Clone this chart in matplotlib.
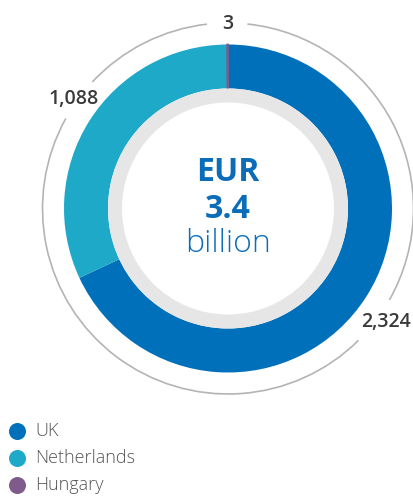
import matplotlib.pyplot as plt
from matplotlib.patches import Arc, Circle

# ── data ──────────────────────────────────────────────────────────────
countries = ["UK", "Netherlands", "Hungary"]
values = [2324, 1088, 3]
value_labels = ["2,324", "1,088", "3"]
colors = ["#0070BA", "#1FA9C9", "#7E5B8B"]
total_text = ["EUR", "3.4", "billion"]

W, H = 414, 496


def Y(p):
    # pixel row (top-down) -> data y (bottom-up)
    return H - p


plt.rcParams["font.family"] = ["Open Sans", "DejaVu Sans"]

fig = plt.figure(figsize=(W / 100, H / 100), dpi=100)
ax = fig.add_axes([0, 0, 1, 1])

cx, cy = 228, Y(208.5)

# ── donut ─────────────────────────────────────────────────────────────
wedges, _ = ax.pie(values, colors=colors, startangle=90, counterclock=False,
                   center=(cx, cy), radius=164, frame=True,
                   wedgeprops=dict(width=44, linewidth=0))
wedges[2].set_edgecolor(colors[2])
wedges[2].set_linewidth(1.2)
ax.set_xlim(0, W)
ax.set_ylim(0, H)
ax.set_aspect("equal")
ax.axis("off")

# inner grey ring + white hole
ax.add_patch(Circle((cx, cy), 120, color="#E6E6E6", lw=0))
ax.add_patch(Circle((cx, cy), 106, color="white", lw=0))

# ── thin outer ring, broken around the value labels ──────────────────
for t1, t2 in [(96.5, 137), (151, 314.7), (-29.5, 84)]:
    ax.add_patch(Arc((cx, cy), 371, 371, theta1=t1, theta2=t2,
                     color="#B4B4B4", lw=1.2))

label_pos = [(386, 322), (74, 99), (228, 24)]
for lab, (px, py) in zip(value_labels, label_pos):
    ax.text(px, Y(py), lab, ha="center", va="center", fontsize=14,
            color="#3A3A3A", fontweight="semibold")

# ── centre text ───────────────────────────────────────────────────────
ax.text(cx, Y(181), total_text[0], ha="center", va="baseline", fontsize=23,
        fontweight="bold", color="#0B6DB7")
ax.text(cx, Y(218), total_text[1], ha="center", va="baseline", fontsize=23,
        fontweight="bold", color="#0B6DB7")
ax.text(cx, Y(252), total_text[2], ha="center", va="baseline", fontsize=23,
        fontweight="light", color="#0B6DB7")

# ── legend ────────────────────────────────────────────────────────────
for i, (name, col) in enumerate(zip(countries, colors)):
    yy = Y(431.5 + i * 27)
    ax.scatter([17.5], [yy], s=150, color=col, linewidths=0)
    ax.text(35, yy, name, ha="left", va="center", fontsize=13,
            color="#555555", fontweight="light")

fig.savefig("out.png", dpi=100)
